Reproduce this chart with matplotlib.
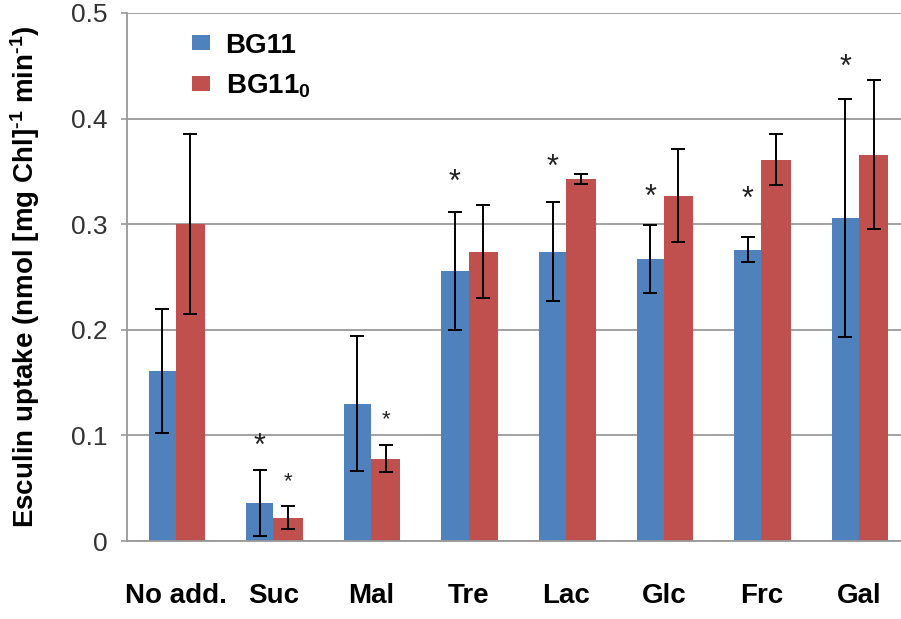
import matplotlib
matplotlib.use('Agg')
import matplotlib.pyplot as plt
import numpy as np

plt.rcParams['font.family'] = ['Liberation Sans', 'DejaVu Sans']
plt.rcParams['mathtext.fontset'] = 'custom'
plt.rcParams['mathtext.default'] = 'bf'
plt.rcParams['mathtext.bf'] = 'Liberation Sans:bold'
plt.rcParams['mathtext.rm'] = 'Liberation Sans:bold'

categories = ['No add.', 'Suc', 'Mal', 'Tre', 'Lac', 'Glc', 'Frc', 'Gal']
bg11 = [0.161, 0.036, 0.130, 0.256, 0.274, 0.267, 0.276, 0.306]
bg11_err = [0.059, 0.031, 0.064, 0.056, 0.047, 0.032, 0.012, 0.113]
bg110 = [0.300, 0.022, 0.078, 0.274, 0.343, 0.327, 0.361, 0.366]
bg110_err = [0.085, 0.011, 0.013, 0.044, 0.005, 0.044, 0.024, 0.071]

# significance marks: (category index, height)
stars_blue = [(1, 0.089), (3, 0.339), (4, 0.353), (5, 0.325), (6, 0.323), (7, 0.448)]
stars_red = [(1, 0.056), (2, 0.115)]

blue = '#4F81BD'
red = '#C0504D'

fig = plt.figure(figsize=(9.01, 6.19), dpi=100)
ax = fig.add_axes([0.141, 0.126, 0.859, 0.853])

x = np.arange(len(categories))
wb, wr = 0.28, 0.30
xb = x - wb / 2
xr = x + wr / 2
ax.bar(xb, bg11, wb, color=blue, label='BG11', zorder=2)
ax.bar(xr, bg110, wr, color=red, label=r'BG11$_0$', zorder=2)
ax.errorbar(xb, bg11, yerr=bg11_err, fmt='none', ecolor='black',
            elinewidth=1.4, capsize=5, capthick=1.4, zorder=3)
ax.errorbar(xr, bg110, yerr=bg110_err, fmt='none', ecolor='black',
            elinewidth=1.4, capsize=5, capthick=1.4, zorder=3)

for i, h in stars_blue:
    ax.text(xb[i], h, '*', ha='center', va='center', fontsize=22, color='#222222')
for i, h in stars_red:
    ax.text(xr[i], h, '*', ha='center', va='center', fontsize=16, color='#222222')

ax.set_xlim(-0.5, 7.43)
ax.set_ylim(0, 0.5)
ax.set_yticks([0, 0.1, 0.2, 0.3, 0.4, 0.5])
ax.set_yticklabels(['0', '0.1', '0.2', '0.3', '0.4', '0.5'])
ax.set_xticks(x)
ax.set_xticklabels(categories, fontweight='bold', fontsize=20)
ax.tick_params(axis='x', length=0, pad=30)
ax.tick_params(axis='y', length=4, width=1.2, color='#999999', pad=10,
               labelsize=19, labelcolor='#333333')
ax.grid(axis='y', color='#9a9a9a', linewidth=1.3, zorder=0)
ax.set_axisbelow(True)
for s in ['top', 'right']:
    ax.spines[s].set_visible(False)
ax.spines['left'].set_color('#999999')
ax.spines['bottom'].set_color('#999999')
ax.spines['left'].set_linewidth(1.3)
ax.spines['bottom'].set_linewidth(1.3)

hy = '\u2010'
ax.set_ylabel('Esculin uptake (nmol [mg Chl]$^{' + hy + '1}$ min$^{' + hy + '1}$)',
              fontweight='bold', fontsize=20)
ax.yaxis.set_label_coords(-0.110, 0.50)

leg = ax.legend(loc='upper left', bbox_to_anchor=(0.052, 1.01), frameon=False,
                prop={'weight': 'bold', 'size': 20}, handlelength=0.65,
                handleheight=0.45, handletextpad=0.55, labelspacing=0.5)

fig.savefig('out.png', dpi=100)
